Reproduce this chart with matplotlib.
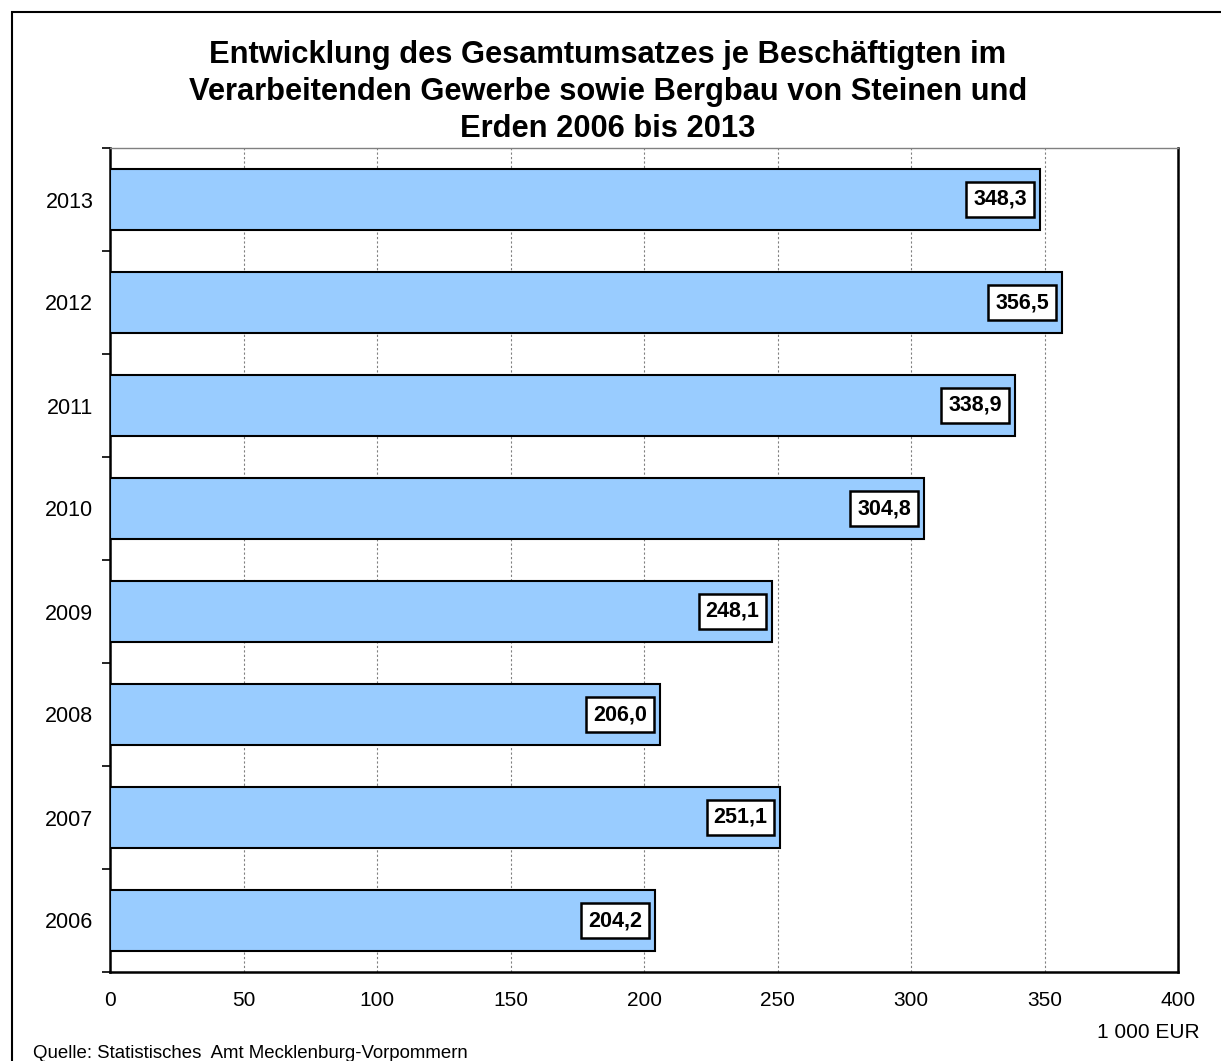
import matplotlib
matplotlib.use('Agg')
import matplotlib.pyplot as plt
from matplotlib.patches import Rectangle

plt.rcParams['font.family'] = ['Liberation Sans', 'DejaVu Sans']

# data
years = ['2006', '2007', '2008', '2009', '2010', '2011', '2012', '2013']
values = [204.2, 251.1, 206.0, 248.1, 304.8, 338.9, 356.5, 348.3]
value_labels = ['204,2', '251,1', '206,0', '248,1', '304,8', '338,9', '356,5', '348,3']
x_ticks = [0, 50, 100, 150, 200, 250, 300, 350, 400]

title = ('Entwicklung des Gesamtumsatzes je Beschäftigten im\n'
         'Verarbeitenden Gewerbe sowie Bergbau von Steinen und\n'
         'Erden 2006 bis 2013')

W, H = 1221, 1061
fig = plt.figure(figsize=(W / 100, H / 100), dpi=100)

# outer frame (runs off the right/bottom edge)
fig.patches.append(Rectangle((12 / W, -0.1), 1.2, 1 - 12 / H + 0.1,
                             transform=fig.transFigure, fill=False,
                             edgecolor='black', linewidth=1.5))

ax = fig.add_axes([110 / W, 1 - 972 / H, (1178 - 110) / W, (972 - 148) / H])

pos = list(range(len(years)))
ax.barh(pos, values, height=0.59, color='#99CCFF', edgecolor='black',
        linewidth=1.5, zorder=3)

for p, v, lab in zip(pos, values, value_labels):
    ax.annotate(lab, xy=(v, p), xytext=(-13, 0), textcoords='offset pixels',
                ha='right', va='center', fontsize=15.5, fontweight='bold',
                zorder=4,
                bbox=dict(boxstyle='square,pad=0.32', facecolor='white',
                          edgecolor='black', linewidth=1.8))

ax.set_xlim(0, 400)
ax.set_ylim(-0.5, len(years) - 0.5)
ax.set_xticks(x_ticks)
ax.set_xticklabels([str(t) for t in x_ticks], fontsize=15)
ax.tick_params(axis='x', length=0, pad=14)

ax.set_yticks(pos)
ax.set_yticklabels(years, fontsize=15.5)
ax.tick_params(axis='y', which='major', length=0, pad=12)
ax.set_yticks([p - 0.5 for p in range(len(years) + 1)], minor=True)
ax.tick_params(axis='y', which='minor', length=6, width=1.2, direction='out')

ax.grid(axis='x', linestyle=(0, (2, 2)), color='#808080', linewidth=0.8, zorder=0)

for side in ['left', 'bottom']:
    ax.spines[side].set_linewidth(1.8)
ax.spines['right'].set_linewidth(1.8)
ax.spines['top'].set_color('#808080')
ax.spines['top'].set_linewidth(1.0)

fig.text(608 / W, 1 - 92 / H, title, ha='center', va='center',
         fontsize=22.2, fontweight='bold', linespacing=1.3)
fig.text(1200 / W, 1 - 1032 / H, '1 000 EUR', ha='right', va='center',
         fontsize=15)
fig.text(33 / W, 1 - 1058 / H, 'Quelle: Statistisches  Amt Mecklenburg-Vorpommern',
         ha='left', va='baseline', fontsize=13.4)

fig.savefig('out.png', dpi=100)
